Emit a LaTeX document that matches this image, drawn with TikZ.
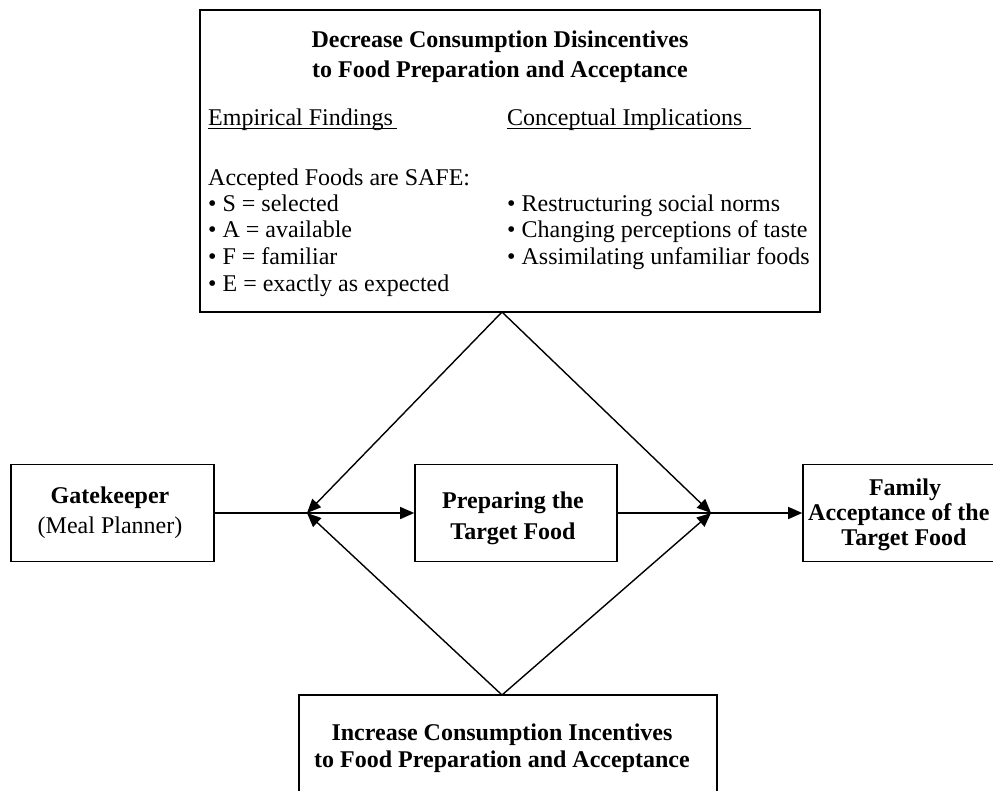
\documentclass[tikz,border=0pt]{standalone}
\usepackage{fontspec}
\setmainfont{Liberation Serif}
\usetikzlibrary{arrows.meta}
\begin{document}
\begin{tikzpicture}[x=1pt,y=-1pt,
  box/.style={draw, line width=1.6pt, inner sep=0pt},
  txt/.style={inner sep=0pt, font=\fontsize{24}{28}\selectfont},
  btxt/.style={inner sep=0pt, font=\bfseries\fontsize{24}{28}\selectfont},
  ln/.style={line width=1.4pt},
  arr/.style={line width=1.4pt, -{Triangle[length=14pt,width=12pt]}},
  uline/.style={line width=1pt}]
\useasboundingbox (0,0) rectangle (993,790);
\fill[white] (0,0) rectangle (993,790);
% boxes
\node[box, minimum width=620pt, minimum height=302pt] (top) at (510,161) {};
\node[box, minimum width=203pt, minimum height=97pt] (gk) at (112.5,513) {};
\node[box, minimum width=202pt, minimum height=97pt] (prep) at (516,513) {};
\node[box, minimum width=204pt, minimum height=97pt] (fam) at (905,513) {};
\node[box, minimum width=418pt, minimum height=120pt] (bot) at (508,755) {};
% top box text
\node[btxt, anchor=base] (t1) at (500,47) {Decrease Consumption Disincentives};
\node[btxt, anchor=base] (t2) at (500,77) {to Food Preparation and Acceptance};
\node[txt, anchor=base west] (ef) at (208,125) {Empirical Findings};
\node[txt, anchor=base west] (ci) at (507,125) {Conceptual Implications};
\draw[uline] ([yshift=-3pt]ef.base west) -- ([xshift=4pt,yshift=-3pt]ef.base east);
\draw[uline] ([yshift=-3pt]ci.base west) -- ([xshift=8pt,yshift=-3pt]ci.base east);
\node[txt, anchor=base west] (a1) at (208,185) {Accepted Foods are SAFE:};
\node[txt, anchor=base west] (a2) at (208,211) {• S = selected};
\node[txt, anchor=base west] (a3) at (208,237) {• A = available};
\node[txt, anchor=base west] (a4) at (208,264) {• F = familiar};
\node[txt, anchor=base west] (a5) at (208,291) {• E = exactly as expected};
\node[txt, anchor=base west] (c1) at (507,211) {• Restructuring social norms};
\node[txt, anchor=base west] (c2) at (507,237) {• Changing perceptions of taste};
\node[txt, anchor=base west] (c3) at (507,264) {• Assimilating unfamiliar foods};
% other box texts
\node[btxt, anchor=base] (g1) at (110,503) {Gatekeeper};
\node[txt, anchor=base] (g2) at (110,533) {(Meal Planner)};
\node[btxt, anchor=base] (p1) at (513,508) {Preparing the};
\node[btxt, anchor=base] (p2) at (513,539) {Target Food};
\node[btxt, anchor=base] (f1) at (905,495) {Family};
\node[btxt, anchor=base west] (f2) at (808,520) {Acceptance of the};
\node[btxt, anchor=base] (f3) at (904,545) {Target Food};
\node[btxt, anchor=base] (b1) at (502,740) {Increase Consumption Incentives};
\node[btxt, anchor=base] (b2) at (502,767) {to Food Preparation and Acceptance};
% junctions and apexes
\coordinate (jl) at (307,513);
\coordinate (jr) at (711,513);
\coordinate (ta) at (502,312);
\coordinate (ba) at (502,695);
% connectors
\draw[ln] (gk.east) -- (jl);
\draw[arr] (jl) -- (prep.west);
\draw[ln] (prep.east) -- (jr);
\draw[arr] (jr) -- (fam.west);
\draw[arr] (ta) -- (jl);
\draw[arr] (ta) -- (jr);
\draw[arr] (ba) -- (jl);
\draw[arr] (ba) -- (jr);
\end{tikzpicture}
\end{document}
